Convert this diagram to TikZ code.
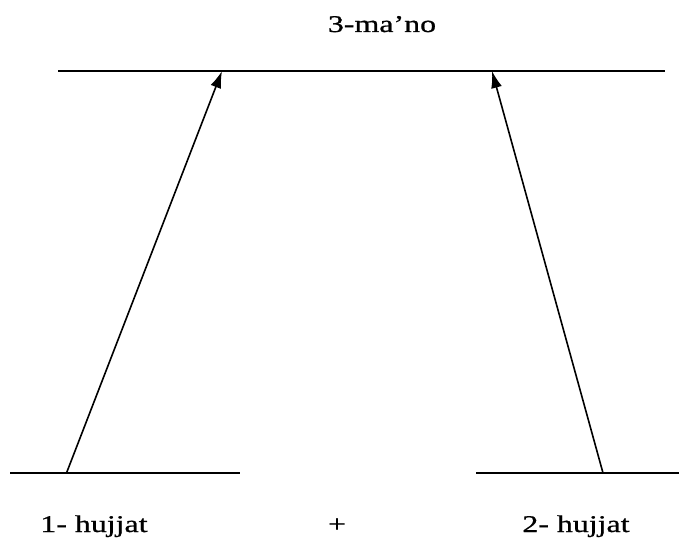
\documentclass[tikz,border=0pt]{standalone}
\usepackage{fontspec}
\usepackage{tikz}
\usetikzlibrary{arrows.meta}
\newfontfamily\widefont[FakeStretch=1.33, FakeBold=0.8]{Liberation Serif}

\begin{document}
\begin{tikzpicture}[x=1pt, y=1pt, every node/.style={font=\widefont\fontsize{24}{28}\selectfont, inner sep=0pt}]
		% Styles
		\tikzstyle{base_line} = [line width=2.2pt, black]
		\tikzstyle{link_arrow} = [line width=1.6pt, black, -{Latex[length=17pt, width=11pt]}]
		\tikzstyle{word_label} = [anchor=base, text=black]

		% Canvas
		\useasboundingbox (0, 0) rectangle (679, 542);

		% Level lines
		\coordinate (top_l) at (58, 471);
		\coordinate (top_r) at (665, 471);
		\coordinate (bl_l) at (10, 69);
		\coordinate (bl_r) at (240, 69);
		\coordinate (br_l) at (476, 69);
		\coordinate (br_r) at (679, 69);
		\draw[base_line] (top_l) -- (top_r);
		\draw[base_line] (bl_l) -- (bl_r);
		\draw[base_line] (br_l) -- (br_r);

		% Arrow ends
		\coordinate (foot_one) at (66.5, 69);
		\coordinate (head_one) at (222, 471);
		\coordinate (foot_two) at (603, 69);
		\coordinate (head_two) at (492, 471);
		\draw[link_arrow] (foot_one) -- (head_one);
		\draw[link_arrow] (foot_two) -- (head_two);

		% Labels
		\node[word_label] (meaning) at (382, 510) {3-ma’no};
		\node[word_label] (proof_one) at (94, 10) {1- hujjat};
		\node[word_label] (plus) at (337, 10) {+};
		\node[word_label] (proof_two) at (576, 10) {2- hujjat};

	\end{tikzpicture}
\end{document}
